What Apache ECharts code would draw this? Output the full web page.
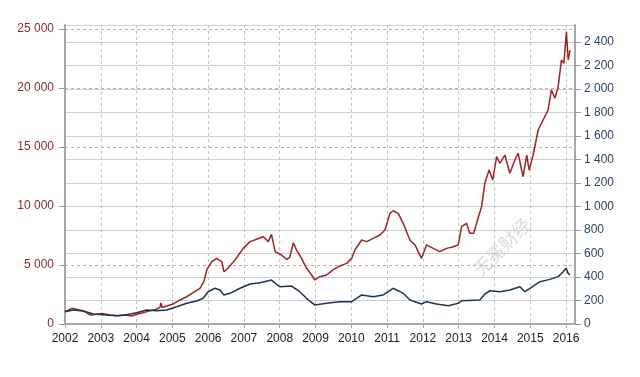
<!DOCTYPE html>
<html>
<head>
<meta charset="utf-8">
<script src="https://cdn.jsdelivr.net/npm/echarts@6/dist/echarts.min.js"></script>
<style>
  html, body { margin: 0; padding: 0; background: #fff; }
  #chart { width: 640px; height: 377px; }
</style>
</head>
<body>
<div id="chart"></div>
<script>
// 赤い系列（左軸）
var redYears = [2002.00, 2002.19, 2002.42, 2002.56, 2002.70, 2002.89, 2003.03, 2003.26, 2003.48, 2003.72,
    2003.86, 2004.00, 2004.18, 2004.37, 2004.56, 2004.65, 2004.68, 2004.71, 2004.84, 2005.02,
    2005.21, 2005.40, 2005.58, 2005.77, 2005.88, 2005.96, 2006.10, 2006.24, 2006.38, 2006.44,
    2006.55, 2006.75, 2006.98, 2007.17, 2007.35, 2007.54, 2007.68, 2007.77, 2007.87, 2008.05,
    2008.19, 2008.28, 2008.38, 2008.47, 2008.61, 2008.75, 2008.89, 2008.98, 2009.12, 2009.31,
    2009.49, 2009.68, 2009.87, 2010.01, 2010.10, 2010.29, 2010.43, 2010.61, 2010.80, 2010.94,
    2011.08, 2011.17, 2011.31, 2011.45, 2011.64, 2011.78, 2011.96, 2012.10, 2012.29, 2012.47,
    2012.66, 2012.85, 2012.99, 2013.08, 2013.22, 2013.31, 2013.42, 2013.54, 2013.64, 2013.73,
    2013.85, 2013.95, 2014.06, 2014.15, 2014.29, 2014.43, 2014.57, 2014.66, 2014.80, 2014.90,
    2014.97, 2015.08, 2015.22, 2015.36, 2015.50, 2015.59, 2015.69, 2015.78, 2015.87, 2015.94,
    2016.01, 2016.06, 2016.11];
var redValues = [1040, 1330, 1190, 1040, 760, 820, 900, 760, 700, 760,
    680, 820, 960, 1130, 1250, 1410, 1780, 1400, 1525, 1700,
    2030, 2310, 2650, 3020, 3590, 4580, 5280, 5560, 5280, 4430,
    4720, 5420, 6410, 6980, 7180, 7400, 6980, 7600, 6130, 5850,
    5480, 5650, 6890, 6270, 5560, 4720, 4150, 3730, 4010, 4150,
    4580, 4920, 5140, 5560, 6270, 7120, 6980, 7260, 7540, 7970,
    9380, 9600, 9380, 8530, 7100, 6700, 5560, 6700, 6410, 6130,
    6410, 6550, 6700, 8250, 8530, 7690, 7690, 8960, 9940, 11920,
    13050, 12200, 14180, 13620, 14320, 12770, 13900, 14470, 12480, 14320,
    13050, 14300, 16440, 17290, 18140, 19830, 19130, 20110, 22370, 22090,
    24770, 22370, 23220];

// 青い系列（右軸）
var blueYears = [2002.00, 2002.23, 2002.51, 2002.79, 2003.16, 2003.44, 2003.72, 2004.00, 2004.28, 2004.56,
    2004.84, 2005.12, 2005.40, 2005.68, 2005.86, 2006.00, 2006.19, 2006.33, 2006.44, 2006.61,
    2006.89, 2007.17, 2007.45, 2007.77, 2008.00, 2008.33, 2008.56, 2008.80, 2008.98, 2009.31,
    2009.68, 2010.01, 2010.29, 2010.61, 2010.89, 2011.17, 2011.45, 2011.64, 2011.96, 2012.10,
    2012.38, 2012.71, 2012.99, 2013.08, 2013.59, 2013.73, 2013.87, 2014.15, 2014.43, 2014.71,
    2014.85, 2014.99, 2015.27, 2015.55, 2015.78, 2015.92, 2016.00, 2016.06, 2016.11];
var blueValues = [105, 119, 111, 85, 77, 71, 79, 96, 119, 113,
    119, 147, 176, 196, 219, 275, 304, 289, 247, 261,
    304, 340, 352, 374, 317, 323, 275, 204, 162, 176,
    190, 190, 247, 232, 247, 304, 261, 204, 170, 190,
    170, 156, 176, 198, 204, 255, 283, 275, 289, 317,
    275, 304, 360, 380, 403, 445, 474, 431, 417];

var yearMin = 2002, yearMax = 2016.25;
var leftMax = 25340, rightMax = 2545;

function fmtSpace(v) {
    return String(v).replace(/\B(?=(\d{3})+(?!\d))/g, ' ');
}

var chart = echarts.init(document.getElementById('chart'));
chart.setOption({
    backgroundColor: '#fff',
    animation: false,
    grid: { left: 65, right: 65, top: 25, bottom: 53 },
    xAxis: {
        type: 'value',
        min: yearMin,
        max: yearMax,
        interval: 1,
        axisLine: { show: true, lineStyle: { color: '#a8a8a8', width: 2 } },
        axisTick: { show: true, length: 4, lineStyle: { color: '#a8a8a8' } },
        axisLabel: {
            color: '#222', fontSize: 12, fontFamily: 'Liberation Sans', margin: 9,
            showMaxLabel: false,
            formatter: function (v) { return v % 1 === 0 ? String(v) : ''; }
        },
        splitLine: { show: true, lineStyle: { color: '#c4c4c4', type: [3, 3] } }
    },
    yAxis: [
        {
            type: 'value',
            min: 0,
            max: leftMax,
            interval: 5000,
            position: 'left',
            axisLine: { show: true, lineStyle: { color: '#a8a8a8', width: 2 } },
            axisTick: { show: true, length: 6, lineStyle: { color: '#999' } },
            axisLabel: {
                color: '#8e2a2e', fontSize: 12, fontFamily: 'Liberation Sans', margin: 11,
                showMaxLabel: false, formatter: fmtSpace
            },
            splitLine: { show: true, lineStyle: { color: '#d7a2a2', type: [3, 3] } }
        },
        {
            type: 'value',
            min: 0,
            max: rightMax,
            interval: 200,
            position: 'right',
            axisLine: { show: true, lineStyle: { color: '#a8a8a8', width: 2 } },
            axisTick: { show: true, length: 6, lineStyle: { color: '#999' } },
            axisLabel: {
                color: '#2b4764', fontSize: 12, fontFamily: 'Liberation Sans', margin: 9,
                showMaxLabel: false, formatter: fmtSpace
            },
            splitLine: { show: true, lineStyle: { color: '#cfcfcf', type: 'solid' } }
        }
    ],
    series: [
        {
            name: 'red',
            type: 'line',
            yAxisIndex: 0,
            showSymbol: false,
            data: redYears.map(function (y, i) { return [y, redValues[i]]; }),
            lineStyle: { color: '#a0232a', width: 1.5 },
            itemStyle: { color: '#a0232a' },
            z: 3
        },
        {
            name: 'blue',
            type: 'line',
            yAxisIndex: 1,
            showSymbol: false,
            data: blueYears.map(function (y, i) { return [y, blueValues[i]]; }),
            lineStyle: { color: '#1c3553', width: 1.5 },
            itemStyle: { color: '#1c3553' },
            z: 4
        }
    ],
    graphic: [
        {
            type: 'text',
            left: 470,
            top: 215,
            rotation: Math.PI / 4,
            style: {
                text: '无冕财经',
                fill: 'rgba(150,150,150,0.35)',
                font: '18px "Noto Sans CJK SC"'
            }
        }
    ]
});

window.addEventListener('resize', function () {
    chart.resize();
});
</script>
</body>
</html>
